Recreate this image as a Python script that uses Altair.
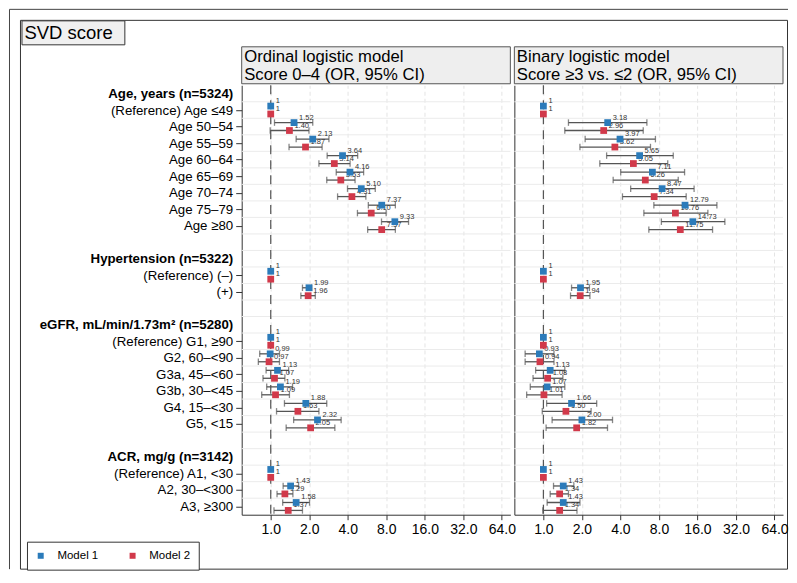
import json
import numpy as np
import pandas as pd
import altair as alt

# ---------------- data ----------------
row_labels = [
    "Age, years (n=5324)",
    "(Reference) Age ≤49",
    "Age 50–54", "Age 55–59", "Age 60–64", "Age 65–69", "Age 70–74", "Age 75–79", "Age ≥80",
    "",
    "Hypertension (n=5322)",
    "(Reference) (–)", "(+)",
    "",
    "eGFR, mL/min/1.73m² (n=5280)",
    "(Reference) G1, ≥90", "G2, 60–<90", "G3a, 45–<60", "G3b, 30–<45", "G4, 15–<30", "G5, <15",
    "",
    "ACR, mg/g (n=3142)",
    "(Reference) A1, <30", "A2, 30–<300", "A3, ≥300",
]
header_rows = [0, 10, 14, 22]
data_rows = [1, 2, 3, 4, 5, 6, 7, 8, 11, 12, 15, 16, 17, 18, 19, 20, 23, 24, 25]
ref_rows = [1, 11, 15, 23]

models = ["Model 1", "Model 2"]
model_colors = ["#2b7bba", "#d1394a"]

panel_titles = [
    ["Ordinal logistic model", "Score 0–4 (OR, 95% CI)"],
    ["Binary logistic model", "Score ≥3 vs. ≤2 (OR, 95% CI)"],
]
chart_title = "SVD score"

x_ticks = [1, 2, 4, 8, 16, 32, 64]
x_domain = [0.593, 74.6]

NA = np.nan
# Ordinal logistic model
ord_m1_or = [1, 1.52, 2.13, 3.64, 4.16, 5.10, 7.37, 9.33, 1, 1.99, 1, 0.99, 1.13, 1.19, 1.88, 2.32, 1, 1.43, 1.58]
ord_m1_lo = [NA, 1.07, 1.58, 2.76, 3.25, 3.98, 5.79, 7.34, NA, 1.77, NA, 0.82, 0.92, 0.93, 1.28, 1.51, NA, 1.25, 1.24]
ord_m1_hi = [NA, 2.13, 2.85, 4.78, 5.32, 6.56, 9.42, 11.94, NA, 2.09, NA, 1.17, 1.38, 1.48, 2.74, 3.55, NA, 1.65, 2.01]
ord_m2_or = [1, 1.40, 1.87, 3.14, 3.53, 4.31, 6.10, 7.37, 1, 1.96, 1, 0.97, 1.07, 1.09, 1.63, 2.05, 1, 1.29, 1.37]
ord_m2_lo = [NA, 0.99, 1.39, 2.38, 2.74, 3.33, 4.76, 5.72, NA, 1.72, NA, 0.80, 0.87, 0.85, 1.11, 1.32, NA, 1.12, 1.06]
ord_m2_hi = [NA, 1.99, 2.52, 4.17, 4.56, 5.54, 7.98, 9.42, NA, 2.23, NA, 1.17, 1.29, 1.40, 2.38, 3.17, NA, 1.49, 1.77]
# Binary logistic model
bin_m1_or = [1, 3.18, 3.97, 5.65, 7.11, 8.47, 12.79, 14.73, 1, 1.95, 1, 0.93, 1.13, 1.07, 1.66, 2.00, 1, 1.43, 1.43]
bin_m1_lo = [NA, 1.57, 2.12, 3.12, 4.02, 4.81, 7.30, 8.36, NA, 1.66, NA, 0.72, 0.87, 0.79, 1.06, 1.17, NA, 1.20, 1.07]
bin_m1_hi = [NA, 6.44, 7.51, 10.35, 12.69, 15.06, 22.7, 26.2, NA, 2.29, NA, 1.21, 1.47, 1.47, 2.61, 3.47, NA, 1.73, 1.93]
bin_m2_or = [1, 2.96, 3.62, 5.05, 6.26, 7.34, 10.76, 11.75, 1, 1.94, 1, 0.94, 1.08, 1.01, 1.50, 1.82, 1, 1.34, 1.34]
bin_m2_lo = [NA, 1.47, 1.93, 2.76, 3.51, 4.15, 6.10, 6.67, NA, 1.63, NA, 0.72, 0.83, 0.74, 0.98, 1.05, NA, 1.13, 0.99]
bin_m2_hi = [NA, 6.03, 6.87, 9.37, 11.32, 13.06, 19.3, 21.0, NA, 2.31, NA, 1.21, 1.42, 1.40, 2.36, 3.17, NA, 1.57, 1.83]


def panel_df(m1, m1lo, m1hi, m2, m2lo, m2hi):
    recs = []
    for mname, ors, los, his in ((models[0], m1, m1lo, m1hi), (models[1], m2, m2lo, m2hi)):
        for r, o, l, h in zip(data_rows, ors, los, his):
            recs.append({"row": r, "model": mname, "orv": o, "lo": l, "hi": h,
                         "lbl": "1" if r in ref_rows else f"{o:.2f}"})
    return pd.DataFrame(recs)


df_ord = panel_df(ord_m1_or, ord_m1_lo, ord_m1_hi, ord_m2_or, ord_m2_lo, ord_m2_hi)
df_bin = panel_df(bin_m1_or, bin_m1_lo, bin_m1_hi, bin_m2_or, bin_m2_lo, bin_m2_hi)
grid_df = pd.DataFrame({"row": list(range(len(row_labels) - 1))})
deco = pd.DataFrame({"k": [0]})

# ---------------- styling / layout ----------------
FONT = "Liberation Sans"
W, H = 269, 430
X0, Y0 = 241.0, 84.5  # page position of the left plot origin (for frame decorations)


def px(v):
    return v - X0


def py(v):
    return v - Y0


xs = alt.Scale(type="log", base=2, domain=x_domain, nice=False)
ys = alt.Scale(domain=[-0.5, len(row_labels) - 0.5], reverse=True, nice=False, zero=False)

xaxis = alt.Axis(values=x_ticks, format=".1f", labelFontSize=14, labelColor="black",
                 labelPadding=3, labelFlush=False, labelOverlap=False, tickSize=5,
                 tickColor="#333", domainColor="#333", grid=True, gridColor="#e4e4e4",
                 gridDash=[4, 3], labelFont=FONT)

tick_rows = sorted(header_rows + data_rows)
label_expr = json.dumps(row_labels, ensure_ascii=False) + "[datum.value]"
hdr_test = "indexof(" + json.dumps(header_rows) + ", datum.value) >= 0"

yaxis_left = alt.Axis(values=tick_rows, labelExpr=label_expr, labelFontSize=13.3, labelColor="black",
                      labelFont=FONT, labelPadding=3, labelOverlap=False, labelFlush=False,
                      labelLimit=400,
                      labelFontWeight={"condition": {"test": hdr_test, "value": "bold"}, "value": "normal"},
                      tickOpacity={"condition": {"test": hdr_test, "value": 0}, "value": 1},
                      tickSize=6, tickColor="#333", domainColor="#333", grid=False)
yaxis_right = alt.Axis(labels=False, ticks=False, grid=False, domainColor="#333")

leg = alt.Legend(title=None, orient="none", legendX=px(26), legendY=py(541.5), direction="horizontal",
                 columns=2, symbolType="square", symbolSize=36, symbolStrokeWidth=0,
                 labelFontSize=11.5, labelFont=FONT, labelColor="black", labelOffset=11,
                 columnPadding=28, padding=8, strokeColor="#333", fillColor="white")

yexpr = "datum.row + (datum.model === '%s' ? -0.24 : 0.24)" % models[0]


def X(field):
    return alt.X(field, type="quantitative", scale=xs, axis=xaxis, title=None)


def Y(field, axis):
    return alt.Y(field, type="quantitative", scale=ys, axis=axis, title=None)


def make_panel(df, titles, yaxis, extra):
    base = alt.Chart(df).transform_calculate(yy=yexpr)
    strip = alt.Chart(deco).mark_rect(fill="#eeeeee", stroke="#555", strokeWidth=1).encode(
        x=alt.value(0), x2=alt.value(W), y=alt.value(-38.5), y2=alt.value(-1.5))
    t1 = alt.Chart(deco).mark_text(align="left", baseline="alphabetic", fontSize=16.7, font=FONT,
                                   color="black").encode(x=alt.value(2.5), y=alt.value(-22.8),
                                                         text=alt.value(titles[0]))
    t2 = alt.Chart(deco).mark_text(align="left", baseline="alphabetic", fontSize=16.7, font=FONT,
                                   color="black").encode(x=alt.value(2.5), y=alt.value(-5.2),
                                                         text=alt.value(titles[1]))
    grid_h = alt.Chart(grid_df).transform_calculate(b="datum.row + 0.5").mark_rule(
        color="#ebebeb", strokeWidth=1).encode(y=Y("b", yaxis))
    ref = alt.Chart(deco).mark_rule(color="#555", strokeWidth=1.2, strokeDash=[9, 6]).encode(
        x=alt.XDatum(1, type="quantitative", scale=xs, axis=xaxis))
    err = base.transform_filter("isValid(datum.lo)").mark_rule(color="#555", strokeWidth=1.3).encode(
        x=X("lo"), x2=alt.X2("hi"), y=Y("yy", yaxis))
    caps = base.transform_filter("isValid(datum.lo)").transform_fold(
        ["lo", "hi"], as_=["end", "xv"]).mark_tick(orient="vertical", size=6.5, thickness=1.3,
                                                   color="#555").encode(x=X("xv"), y=Y("yy", yaxis))
    labels = base.mark_text(align="left", baseline="middle", dx=5, dy=-5, fontSize=7.5,
                            color="#333", font=FONT).encode(x=X("orv"), y=Y("yy", yaxis), text="lbl:N")
    pts = base.mark_square(size=46, opacity=1).encode(
        x=X("orv"), y=Y("yy", yaxis),
        color=alt.Color("model:N", scale=alt.Scale(domain=models, range=model_colors), legend=leg))
    return alt.layer(*extra, strip, t1, t2, grid_h, ref, err, caps, labels, pts).properties(width=W, height=H)


# frame decorations (left panel coordinates)
outer_top = alt.Chart(deco).mark_rule(color="#444", strokeWidth=1).encode(
    x=alt.value(px(8.5)), x2=alt.value(px(788)), y=alt.value(py(8.5)))
outer_left = alt.Chart(deco).mark_rule(color="#444", strokeWidth=1).encode(
    x=alt.value(px(8.5)), y=alt.value(py(8.5)), y2=alt.value(py(569)))
inner = alt.Chart(deco).mark_rect(fillOpacity=0, stroke="#333", strokeWidth=1).encode(
    x=alt.value(px(19.5)), x2=alt.value(px(787.5)), y=alt.value(py(19.5)), y2=alt.value(py(569)))
svd_box = alt.Chart(deco).mark_rect(fill="#f0f0f0", stroke="#333", strokeWidth=1).encode(
    x=alt.value(px(21)), x2=alt.value(px(124)), y=alt.value(py(20)), y2=alt.value(py(44)))
svd_txt = alt.Chart(deco).mark_text(align="left", baseline="alphabetic", fontSize=18.5, font=FONT,
                                    color="black").encode(x=alt.value(px(23.5)), y=alt.value(py(38.5)),
                                                          text=alt.value(chart_title))

left = make_panel(df_ord, panel_titles[0], yaxis_left, [outer_top, outer_left, inner, svd_box, svd_txt])
right = make_panel(df_bin, panel_titles[1], yaxis_right, [])

chart = alt.hconcat(left, right, spacing=4, bounds="flush").resolve_scale(color="shared").properties(
    padding={"left": 0, "top": 0, "right": 0, "bottom": 0}
).configure_view(stroke="transparent")

chart.save("out.html", embed_options={"renderer": "svg", "actions": False})
